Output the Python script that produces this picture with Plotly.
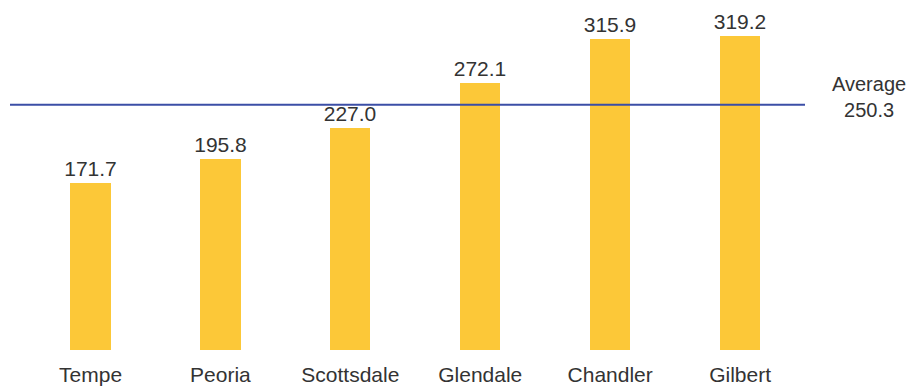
import plotly.graph_objects as go

cities = ["Tempe", "Peoria", "Scottsdale", "Glendale", "Chandler", "Gilbert"]
values = [171.7, 195.8, 227.0, 272.1, 315.9, 319.2]
average = 250.3

FONT = "Liberation Sans, Arial, sans-serif"

fig = go.Figure()
fig.add_trace(go.Bar(
    x=list(range(len(cities))), y=values,
    width=0.31,
    marker=dict(color="#fcc838", line=dict(width=0)),
    text=[f"{v:.1f}" for v in values],
    textposition="outside",
    constraintext="none",
    textfont=dict(family=FONT, size=21, color="#333333"),
    cliponaxis=False,
))
fig.add_shape(type="line", xref="paper", x0=0, x1=1, yref="y", y0=average, y1=average,
              line=dict(color="#3b4ea6", width=2))
fig.add_annotation(xref="paper", x=1.0805, yref="y", y=258,
                   xanchor="center", yanchor="middle",
                   text=f"Average<br>{average:.1f}", showarrow=False,
                   font=dict(family=FONT, size=20, color="#333333"),
                   align="center")
fig.update_layout(
    width=907, height=383,
    margin=dict(l=2, r=110, t=0, b=41),
    paper_bgcolor="white", plot_bgcolor="white",
    showlegend=False,
    bargap=0,
    xaxis=dict(range=[-0.62, 5.5], tickmode="array", tickvals=list(range(len(cities))),
               ticktext=cities, showgrid=False, zeroline=False, showline=False,
               ticks="", ticklabelstandoff=10,
               tickfont=dict(family=FONT, size=21, color="#333333")),
    yaxis=dict(range=[5, 347], visible=False, showgrid=False),
)
fig.write_html("out.html")
